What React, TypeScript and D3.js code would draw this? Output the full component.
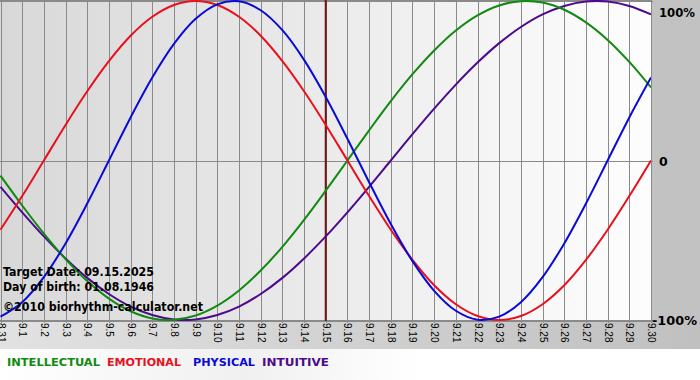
import React from "react";
import * as d3 from "d3";

const dayLabels = [
  "8.31", "9.1", "9.2", "9.3", "9.4", "9.5", "9.6", "9.7", "9.8", "9.9", "9.10",
  "9.11", "9.12", "9.13", "9.14", "9.15", "9.16", "9.17", "9.18", "9.19", "9.20",
  "9.21", "9.22", "9.23", "9.24", "9.25", "9.26", "9.27", "9.28", "9.29", "9.30",
];

const physical = [
  -0.979, -0.888, -0.731, -0.52, -0.27, 0, 0.27, 0.52, 0.731, 0.888, 0.979,
  0.998, 0.942, 0.817, 0.631, 0.398, 0.136, -0.136, -0.398, -0.631, -0.817,
  -0.942, -0.998, -0.979, -0.888, -0.731, -0.52, -0.27, 0, 0.27, 0.52,
];
const emotional = [
  -0.434, -0.223, 0, 0.223, 0.434, 0.623, 0.782, 0.901, 0.975, 1, 0.975,
  0.901, 0.782, 0.623, 0.434, 0.223, 0, -0.223, -0.434, -0.623, -0.782,
  -0.901, -0.975, -1, -0.975, -0.901, -0.782, -0.623, -0.434, -0.223, 0,
];
const intellectual = [
  -0.095, -0.282, -0.458, -0.618, -0.756, -0.866, -0.945, -0.99, -0.999, -0.972, -0.91,
  -0.815, -0.69, -0.541, -0.372, -0.189, 0, 0.189, 0.372, 0.541, 0.69,
  0.815, 0.91, 0.972, 0.999, 0.99, 0.945, 0.866, 0.756, 0.618, 0.458,
];
const intuitive = [
  -0.165, -0.325, -0.476, -0.614, -0.736, -0.837, -0.916, -0.969, -0.997, -0.997, -0.969,
  -0.916, -0.837, -0.736, -0.614, -0.476, -0.325, -0.165, 0, 0.165, 0.325,
  0.476, 0.614, 0.736, 0.837, 0.916, 0.969, 0.997, 0.997, 0.969, 0.916,
];

const seriesNames = ["INTELLECTUAL", "EMOTIONAL", "PHYSICAL", "INTUITIVE"];
const seriesColors = ["#108a10", "#e8101c", "#0a0ad8", "#4c0a8c"];
const seriesData = [intellectual, emotional, physical, intuitive];
const drawOrder = [3, 0, 1, 2];

const targetIndex = 15;
const infoLines = ["Target Date: 09.15.2025", "Day of birth: 01.08.1946"];
const copyright = "©2010 biorhythm-calculator.net";
const yLabels = [
  { v: 1, t: "100%" },
  { v: 0, t: "0" },
  { v: -1, t: "-100%" },
];

export default function App() {
  const W = 700;
  const H = 380;
  const plotL = 0;
  const plotR = 651;
  const plotT = 0;
  const plotB = 321;

  const x = d3.scaleLinear().domain([0, dayLabels.length - 1]).range([0.5, plotR]);
  const y = d3.scaleLinear().domain([-1, 1]).range([320, 1]);

  const line = d3
    .line<number>()
    .x((_, i) => x(i))
    .y((d) => y(d))
    .curve(d3.curveCatmullRom.alpha(0.5));

  const font = "'DejaVu Sans', Verdana, sans-serif";

  const legendWidths = [93, 74, 62, 67];
  const legendX = [7, 107, 193, 262];

  return (
    <svg
      width={W}
      height={H}
      style={{ position: "absolute", left: 0, top: 0, display: "block" }}
    >
      <defs>
        <linearGradient id="outerBg" x1="0" x2="1" y1="0" y2="0">
          <stop offset="0" stopColor="#e2e2e2" />
          <stop offset="1" stopColor="#c0c0c0" />
        </linearGradient>
        <linearGradient id="plotBg" x1="0" x2="1" y1="0" y2="0">
          <stop offset="0" stopColor="#d8d8d8" />
          <stop offset="0.92" stopColor="#fbfbfb" />
          <stop offset="1" stopColor="#fdfdfd" />
        </linearGradient>
        <linearGradient id="legendBg" x1="0" x2="1" y1="0" y2="0">
          <stop offset="0" stopColor="#ffffff" />
          <stop offset="0.35" stopColor="#f0f0f0" />
          <stop offset="0.6" stopColor="#ffffff" />
          <stop offset="1" stopColor="#ffffff" />
        </linearGradient>
        <clipPath id="plotClip">
          <rect x={plotL} y={plotT} width={plotR - plotL} height={plotB - plotT} />
        </clipPath>
      </defs>

      <rect x={0} y={0} width={W} height={H} fill="#ffffff" />
      <rect x={0} y={349} width={W} height={H - 349} fill="url(#legendBg)" />
      <rect x={0} y={0} width={W} height={349} fill="url(#outerBg)" />
      <rect x={plotR} y={0} width={W - plotR} height={plotB} fill="#c2c2c2" />
      <rect x={plotL} y={plotT} width={plotR - plotL} height={plotB - plotT} fill="url(#plotBg)" />

      {/* vertical grid */}
      {dayLabels.map((_, i) => (
        <line
          key={"g" + i}
          x1={Math.round(x(i)) + 0.5}
          x2={Math.round(x(i)) + 0.5}
          y1={plotT}
          y2={plotB + 2}
          stroke="#8a8a8a"
          strokeWidth={1}
        />
      ))}
      {/* horizontal grid */}
      {[1, 0, -1].map((v) => (
        <line
          key={"h" + v}
          x1={plotL}
          x2={plotR + 2}
          y1={Math.round(y(v)) + 0.5}
          y2={Math.round(y(v)) + 0.5}
          stroke="#8a8a8a"
          strokeWidth={1}
        />
      ))}
      <line x1={plotL} x2={plotR} y1={0.5} y2={0.5} stroke="#8a8a8a" />
      <line x1={plotL} x2={plotR} y1={plotB + 0.5} y2={plotB + 0.5} stroke="#8a8a8a" />

      {/* target line */}
      <line
        x1={x(targetIndex)}
        x2={x(targetIndex)}
        y1={plotT}
        y2={plotB}
        stroke="#6e1414"
        strokeWidth={2}
      />

      {/* series */}
      <g clipPath="url(#plotClip)">
        {drawOrder.map((si) => (
          <path
            key={"s" + si}
            d={line(seriesData[si]) || ""}
            fill="none"
            stroke={seriesColors[si]}
            strokeWidth={2}
          />
        ))}
      </g>

      {/* info text */}
      <g fontFamily={font} fontWeight="bold" fontSize={11.5} fill="#000">
        <text x={3} y={276} textLength={151} lengthAdjust="spacingAndGlyphs">
          {infoLines[0]}
        </text>
        <text x={3} y={291} textLength={151} lengthAdjust="spacingAndGlyphs">
          {infoLines[1]}
        </text>
        <text x={3} y={311} textLength={200} lengthAdjust="spacingAndGlyphs">
          {copyright}
        </text>
      </g>

      {/* y labels */}
      <g fontFamily={font} fontWeight="bold" fontSize={12.5} fill="#000">
        {yLabels.map((l) => (
          <text
            key={l.t}
            x={l.t === "-100%" ? 652 : 659}
            y={l.v === 1 ? 17 : y(l.v) + 5}
            textLength={l.t === "100%" ? 36 : l.t === "-100%" ? 45 : undefined}
            lengthAdjust="spacingAndGlyphs"
          >
            {l.t}
          </text>
        ))}
      </g>

      {/* x tick labels */}
      <g fontFamily="'Liberation Sans', Arial, sans-serif" fontSize={10} fill="#000">
        {dayLabels.map((d, i) => (
          <text
            key={"t" + i}
            transform={`translate(${Math.round(x(i)) + 0.5},${plotB + 2}) rotate(90)`}
            dominantBaseline="central"
            textAnchor="start"
          >
            {d}
          </text>
        ))}
      </g>

      {/* legend */}
      <g fontFamily={font} fontWeight="bold" fontSize={11}>
        {seriesNames.map((n, i) => (
          <text
            key={n}
            x={legendX[i]}
            y={366}
            fill={seriesColors[i]}
            textLength={legendWidths[i]}
            lengthAdjust="spacingAndGlyphs"
          >
            {n}
          </text>
        ))}
      </g>
    </svg>
  );
}
